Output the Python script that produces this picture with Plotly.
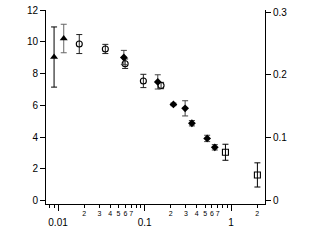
import plotly.graph_objects as go

# ---- data ----
tri_x = [0.0090, 0.01164]
tri_y = [9.05, 10.22]
tri_err = [1.9, 0.9]

circ_x = [0.0176, 0.0352, 0.0596, 0.0968, 0.155]
circ_y = [9.87, 9.56, 8.63, 7.54, 7.25]
circ_err = [0.6, 0.29, 0.3, 0.42, 0.2]

diam_x = [0.0576, 0.142, 0.2153, 0.294, 0.352, 0.528, 0.647]
diam_y = [9.02, 7.48, 6.06, 5.81, 4.87, 3.91, 3.35]
diam_err = [0.45, 0.45, 0.08, 0.48, 0.17, 0.2, 0.17]

sq_x = [0.859, 2.01]
sq_y = [0.0766, 0.0404]
sq_err = [0.0128, 0.0193]

major_vals = [0.01, 0.1, 1]
major_text = ["0.01", "0.1", "1"]
minor_vals = [0.008, 0.009,
              0.02, 0.03, 0.04, 0.05, 0.06, 0.07, 0.08, 0.09,
              0.2, 0.3, 0.4, 0.5, 0.6, 0.7, 0.8, 0.9,
              2]
minor_text = ["", "",
              "2", "3", "4", "5", "6", "7", "", "",
              "2", "3", "4", "5", "6", "7", "", "",
              "2"]

left_ticks = [0, 2, 4, 6, 8, 10, 12]
right_ticks = [0, 0.1, 0.2, 0.3]
right_text = ["0", "0.1", "0.2", "0.3"]

FONT = "Liberation Sans, Arial, sans-serif"
xr = [-2.139, 0.391]

fig = go.Figure()

def eb(arr, color, w=3):
    return dict(type="data", array=arr, visible=True, color=color, thickness=1, width=w)

fig.add_trace(go.Scatter(x=tri_x[:1], y=tri_y[:1], mode="markers",
                         marker=dict(symbol="triangle-up", size=7, color="black"),
                         error_y=eb(tri_err[:1], "black"), xaxis="x", yaxis="y"))
fig.add_trace(go.Scatter(x=tri_x[1:], y=tri_y[1:], mode="markers",
                         marker=dict(symbol="triangle-up", size=7, color="black"),
                         error_y=eb(tri_err[1:], "#666666"), xaxis="x", yaxis="y"))
fig.add_trace(go.Scatter(x=circ_x, y=circ_y, mode="markers",
                         marker=dict(symbol="circle-open", size=6, color="black", line=dict(width=1.1)),
                         error_y=eb(circ_err, "#222222"), xaxis="x", yaxis="y"))
fig.add_trace(go.Scatter(x=diam_x, y=diam_y, mode="markers",
                         marker=dict(symbol="diamond", size=6, color="black"),
                         error_y=eb(diam_err, "#444444"), xaxis="x", yaxis="y"))
fig.add_trace(go.Scatter(x=sq_x, y=sq_y, mode="markers",
                         marker=dict(symbol="square-open", size=6, color="black", line=dict(width=1.1)),
                         error_y=eb(sq_err, "black"), xaxis="x", yaxis="y2"))
# dummy trace to activate minor-tick axis
fig.add_trace(go.Scatter(x=[1], y=[None], mode="markers", xaxis="x2", yaxis="y",
                         showlegend=False, hoverinfo="skip"))

fig.update_layout(
    width=315, height=247,
    margin=dict(l=46, r=50, t=10, b=43, autoexpand=False),
    paper_bgcolor="white", plot_bgcolor="white",
    showlegend=False,
    font=dict(family=FONT, color="black"),
    xaxis=dict(type="log", range=xr, showgrid=False, zeroline=False,
               showline=True, linecolor="black", linewidth=1,
               ticks="outside", ticklen=6, tickcolor="black", tickwidth=1,
               tickmode="array", tickvals=major_vals, ticktext=major_text,
               tickfont=dict(size=10, family=FONT), ticklabelstandoff=3,
               tickangle=0, automargin=False, anchor="y"),
    xaxis2=dict(type="log", range=xr, overlaying="x", anchor="y", side="bottom",
                showgrid=False, zeroline=False, showline=False,
                ticks="outside", ticklen=3, tickcolor="black", tickwidth=1,
                tickmode="array", tickvals=minor_vals, ticktext=minor_text,
                tickfont=dict(size=7, family=FONT), tickangle=0, automargin=False),
    yaxis=dict(range=[-0.23, 12.02], showgrid=False, zeroline=False,
               showline=True, linecolor="black", linewidth=1,
               ticks="outside", ticklen=5, tickcolor="black",
               tickmode="array", tickvals=left_ticks, automargin=False,
               tickfont=dict(size=10, family=FONT)),
    yaxis2=dict(range=[-0.006, 0.3037], overlaying="y", side="right", anchor="x",
                showgrid=False, zeroline=False,
                showline=True, linecolor="black", linewidth=1,
                ticks="outside", ticklen=5, tickcolor="black",
                tickmode="array", tickvals=right_ticks, ticktext=right_text,
                automargin=False, tickfont=dict(size=10, family=FONT)),
)

fig.write_html("out.html", config={"displayModeBar": False},
               post_script="document.body.style.margin='0';")
